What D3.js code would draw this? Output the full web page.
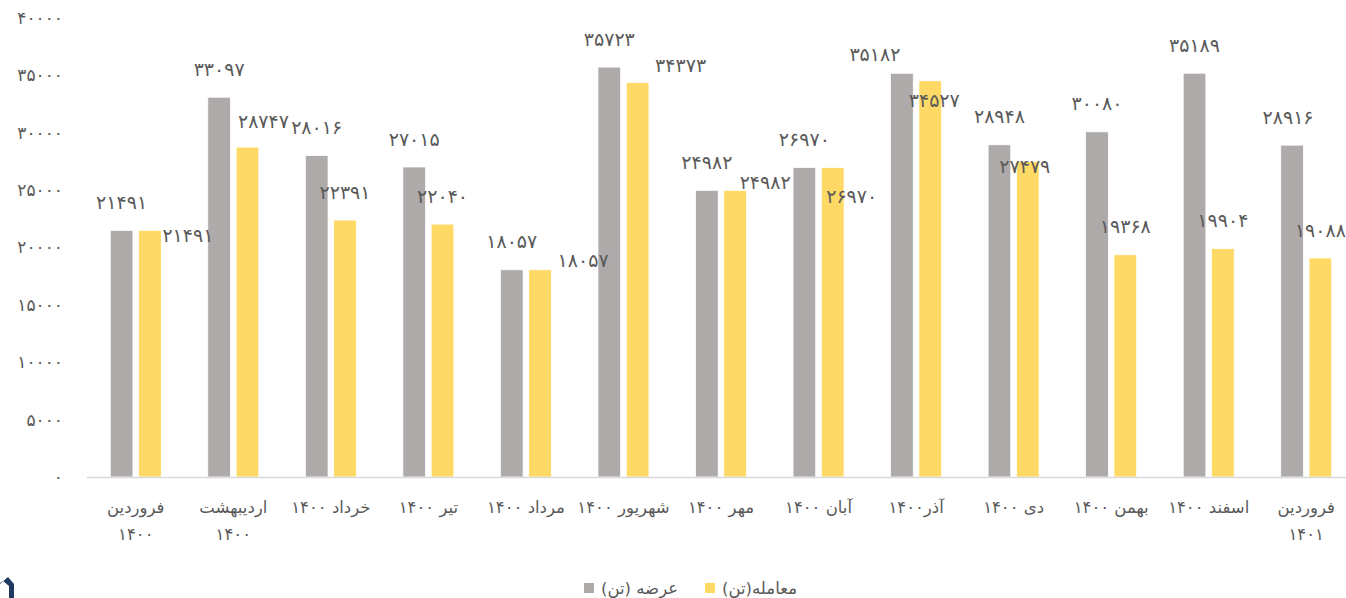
<!DOCTYPE html>
<html>
<head>
<meta charset="utf-8">
<script src="https://cdn.jsdelivr.net/npm/d3@7"></script>
<style>
  body { margin: 0; background: #fff; }
  svg { display: block; font-family: 'DejaVu Sans', sans-serif; }
</style>
</head>
<body>
<div id="chart"></div>
<script>
// categories (months) - '\n' marks where the original label wraps
const months = [
  'فروردین\n۱۴۰۰', 'اردیبهشت\n۱۴۰۰', 'خرداد ۱۴۰۰', 'تیر ۱۴۰۰', 'مرداد ۱۴۰۰',
  'شهریور ۱۴۰۰', 'مهر ۱۴۰۰', 'آبان ۱۴۰۰', 'آذر۱۴۰۰', 'دی ۱۴۰۰',
  'بهمن ۱۴۰۰', 'اسفند ۱۴۰۰', 'فروردین\n۱۴۰۱'
];
// series
const supply = [21491, 33097, 28016, 27015, 18057, 35723, 24982, 26970, 35182, 28948, 30080, 35189, 28916];
const traded = [21491, 28747, 22391, 22040, 18057, 34373, 24982, 26970, 34527, 27479, 19368, 19904, 19088];
const seriesNames = ['عرضه (تن)', 'معامله(تن)'];
const yTicks = [0, 5000, 10000, 15000, 20000, 25000, 30000, 35000, 40000];

// manual label nudges (px) from the original, relative to "centred above bar"
const supplyNudge = [[0,0],[0,0],[0,0],[0,0],[0,0],[0,0],[0,0],[0,0],[-27,9],[0,0],[0,0],[0,0],[-4,0]];
const tradedNudge = [[38,33],[16,2],[0,0],[0,0],[43,19],[43,11],[30,20],[19,57],[4,48],[-3,33],[0,0],[0,0],[0,0]];

const WIDTH = 1346, HEIGHT = 598;
const colors = ['#aeaaaa', '#ffd966'];
const fa = n => String(n).replace(/\d/g, d => '۰۱۲۳۴۵۶۷۸۹'[d]);

const svg = d3.select('#chart').append('svg')
  .attr('width', WIDTH).attr('height', HEIGHT);

const x = d3.scaleBand().domain(d3.range(months.length)).range([87, 1355]);
const xIn = d3.scaleBand().domain([0, 1]).range([-25.5, 25.5]).paddingInner(0.2);
const y = d3.scaleLinear().domain([0, 40000]).range([477, 18]);
const cx = i => x(i) + x.bandwidth() / 2;

// y axis (labels only)
const yAxis = d3.axisLeft(y).tickValues(yTicks).tickSize(0).tickPadding(0).tickFormat(fa);
svg.append('g')
  .attr('transform', 'translate(63,0)')
  .call(yAxis)
  .call(g => g.select('.domain').remove())
  .selectAll('text')
  .attr('font-family', 'DejaVu Sans')
  .attr('font-size', 17)
  .attr('fill', '#595959');

// bars
const rows = months.map((m, i) => ({ i, vals: [supply[i], traded[i]] }));
const groups = svg.append('g').selectAll('g').data(rows).enter().append('g')
  .attr('transform', d => `translate(${cx(d.i)},0)`);

groups.selectAll('rect')
  .data(d => d.vals.map((v, k) => ({ v, k })))
  .enter().append('rect')
  .attr('x', d => xIn(d.k))
  .attr('width', xIn.bandwidth())
  .attr('y', d => y(d.v))
  .attr('height', d => y(0) - y(d.v))
  .attr('fill', d => colors[d.k])
  .attr('stroke', '#fff')
  .attr('stroke-width', 0.75);

// x axis line
svg.append('line')
  .attr('x1', x.range()[0]).attr('x2', x.range()[1])
  .attr('y1', y(0) + 0.5).attr('y2', y(0) + 0.5)
  .attr('stroke', '#d9d9d9').attr('stroke-width', 1.3);

// data labels (own layer, drawn over all bars)
const labels = rows.flatMap(d => d.vals.map((v, k) => ({ v, k, i: d.i })));
svg.append('g').selectAll('text')
  .data(labels)
  .enter().append('text')
  .attr('x', d => cx(d.i) + xIn(d.k) + xIn.bandwidth() / 2 + (d.k ? tradedNudge : supplyNudge)[d.i][0])
  .attr('y', d => y(d.v) - 28 + (d.k ? tradedNudge : supplyNudge)[d.i][1])
  .attr('dy', '0.35em')
  .attr('text-anchor', 'middle')
  .attr('font-size', 19)
  .attr('fill', '#595959')
  .text(d => fa(d.v));

// category labels
groups.append('text')
  .attr('text-anchor', 'middle')
  .attr('font-size', 16.5)
  .attr('fill', '#595959')
  .selectAll('tspan')
  .data(d => months[d.i].split('\n'))
  .enter().append('tspan')
  .attr('x', 0)
  .attr('y', (d, j) => 507 + j * 27)
  .attr('dy', '0.35em')
  .text(d => d);

// legend
const legend = svg.append('g').attr('transform', 'translate(0,588)');
const legendX = [584, 705];
seriesNames.forEach((name, k) => {
  legend.append('rect')
    .attr('x', legendX[k]).attr('y', -5)
    .attr('width', 10).attr('height', 10)
    .attr('fill', colors[k]);
  legend.append('text')
    .attr('x', legendX[k] + 17).attr('y', 0)
    .attr('dy', '0.35em')
    .attr('font-size', 16.5)
    .attr('fill', '#595959')
    .attr('direction', 'rtl')
    .attr('text-anchor', 'end')
    .text(name);
});

// cropped logo corner
svg.append('path')
  .attr('d', 'M0,584 L8,577 L14,584 L14,598 L9,598 L9,586 L3,581 L0,583 Z')
  .attr('fill', '#1f3864');
</script>
</body>
</html>
